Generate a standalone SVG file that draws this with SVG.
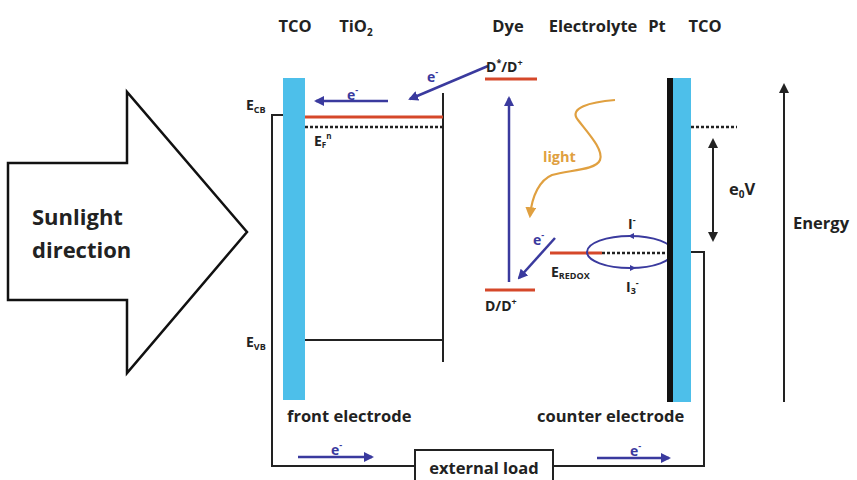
<svg xmlns="http://www.w3.org/2000/svg" width="857" height="480" viewBox="0 0 857 480">
<style>
text{font-family:"Open Sans","Liberation Sans",Arial,sans-serif;font-weight:bold;fill:#222}
.hdr{font-size:16.5px}
.sm{font-size:14px}
.lbl{font-size:16.5px}
.blk{stroke:#222;stroke-width:2;fill:none}
.blu{stroke:#3a3a9e;stroke-width:2.5;fill:none}
.red{stroke:#d5482a;stroke-width:3;fill:none}
.dash{stroke:#222;stroke-width:2.5;stroke-dasharray:3,2;fill:none}
.bar{fill:#4dbfea}
.el{fill:#3a3a9e}
.bt{fill:#3a3a9e}
</style>
<defs>
<marker id="ab" viewBox="0 0 10 10" refX="8" refY="5" markerWidth="4" markerHeight="4" orient="auto"><path d="M0,0L10,5L0,10z" fill="#3a3a9e"/></marker>
<marker id="ak" viewBox="0 0 10 10" refX="8" refY="5" markerWidth="5" markerHeight="5" orient="auto-start-reverse"><path d="M0,0L10,5L0,10z" fill="#222"/></marker>
<marker id="ao" viewBox="0 0 10 10" refX="8" refY="5" markerWidth="5" markerHeight="5" orient="auto"><path d="M0,0L10,5L0,10z" fill="#e0a040"/></marker>
</defs>
<rect width="857" height="480" fill="#fff"/>

<g id="sunlight-arrow">
<path d="M8,163H127V92L247,232L127,373V300H8Z" fill="#fff" stroke="#111" stroke-width="2.5" stroke-linejoin="miter"/>
<text x="32" y="225" style="font-size:22px">Sunlight</text>
<text x="32" y="258" style="font-size:22px">direction</text>
</g>

<g id="headers">
<text class="hdr" x="295" y="32" text-anchor="middle">TCO</text>
<text class="hdr" x="356" y="32" text-anchor="middle">TiO<tspan font-size="10" dy="4">2</tspan></text>
<text class="hdr" x="508" y="32" text-anchor="middle">Dye</text>
<text class="hdr" x="593" y="32" text-anchor="middle">Electrolyte</text>
<text class="hdr" x="657" y="32" text-anchor="middle">Pt</text>
<text class="hdr" x="705" y="32" text-anchor="middle">TCO</text>
</g>

<g id="connectors">
<path class="blk" d="M283,115H272V466H415"/>
<path class="blk" d="M553,466H704V252H691"/>
<path class="blk" d="M443,93V362"/>
<path class="blk" d="M305,340H443"/>
<line class="blu" x1="388" y1="101" x2="316" y2="101" marker-end="url(#ab)"/>
<line class="blu" x1="488" y1="66" x2="410" y2="99" marker-end="url(#ab)"/>
<line class="blu" x1="509" y1="282" x2="509" y2="98" marker-end="url(#ab)"/>
<line class="blu" x1="555" y1="238" x2="519" y2="278" marker-end="url(#ab)"/>
<line class="blu" x1="298" y1="457" x2="372" y2="457" marker-end="url(#ab)"/>
<line class="blu" x1="597" y1="458" x2="669" y2="458" marker-end="url(#ab)"/>
<path d="M615,100C590,102 568,108 578,120C588,133 604,150 600,160C596,170 570,170 552,175C540,180 532,195 530,216" stroke="#e0a040" stroke-width="2.2" fill="none" marker-end="url(#ao)"/>
<line class="blk" x1="713" y1="140" x2="713" y2="240" stroke-width="1.8" marker-start="url(#ak)" marker-end="url(#ak)"/>
<line class="blk" x1="784" y1="402" x2="784" y2="85" stroke-width="1.8" marker-end="url(#ak)"/>
</g>

<g id="front-electrode">
<rect class="bar" x="283" y="78" width="22" height="322"/>
<text class="sm" x="246" y="110">E<tspan font-size="9" dy="3">CB</tspan></text>
<text class="sm" x="246" y="347">E<tspan font-size="9" dy="3">VB</tspan></text>
<text class="lbl" x="287" y="422">front electrode</text>
</g>

<g id="tio2">
<line class="red" x1="305" y1="117" x2="443" y2="117"/>
<line class="dash" x1="305" y1="127" x2="443" y2="127"/>
<text class="sm" x="314" y="146">E<tspan font-size="8" dy="2">F</tspan><tspan font-size="8" dy="-9">n</tspan></text>
<text class="sm bt" x="347" y="100">e<tspan font-size="9" dy="-7">-</tspan></text>
<text class="sm bt" x="427" y="82">e<tspan font-size="9" dy="-7">-</tspan></text>
</g>

<g id="dye">
<line class="red" x1="485" y1="79" x2="537" y2="79"/>
<text class="sm" x="486" y="72">D<tspan font-size="9" dy="-6">*</tspan><tspan dy="6">/D</tspan><tspan font-size="9" dy="-6">+</tspan></text>
<line class="red" x1="485" y1="290" x2="535" y2="290"/>
<text class="sm" x="485" y="311">D/D<tspan font-size="9" dy="-6">+</tspan></text>
<text x="543" y="162" style="font-size:14.5px;fill:#e0a040">light</text>
<text class="sm bt" x="533" y="245">e<tspan font-size="9" dy="-7">-</tspan></text>
</g>

<g id="electrolyte">
<line class="red" x1="550" y1="253" x2="602" y2="253"/>
<line class="dash" x1="602" y1="253" x2="669" y2="253"/>
<ellipse cx="630" cy="252" rx="43" ry="16" fill="none" stroke="#3a3a9e" stroke-width="2"/>
<path class="el" d="M628,236l6,-3v6z"/>
<path class="el" d="M636,268l-6,-3v6z"/>
<path class="el" d="M679,252l-5,-3v6z"/>
<text class="sm" x="551" y="277">E<tspan font-size="9" dy="2">REDOX</tspan></text>
<text class="sm" x="628" y="229">I<tspan font-size="9" dy="-6">-</tspan></text>
<text class="sm" x="626" y="292">I<tspan font-size="9" dy="2">3</tspan><tspan font-size="9" dy="-8">-</tspan></text>
</g>

<g id="counter-electrode">
<rect x="667" y="78" width="6" height="324" fill="#111"/>
<rect class="bar" x="673" y="78" width="18" height="324"/>
<line class="dash" x1="691" y1="127" x2="737" y2="127"/>
<text class="lbl" x="537" y="422">counter electrode</text>
<text class="lbl" x="729" y="195">e<tspan font-size="10" dy="3">0</tspan><tspan dy="-3">V</tspan></text>
<text class="lbl" x="793" y="229">Energy</text>
</g>

<g id="external-load">
<rect x="415" y="450" width="138" height="40" fill="#fff" stroke="#222" stroke-width="2"/>
<text class="lbl" x="484" y="474" text-anchor="middle">external load</text>
<text class="sm bt" x="331" y="455">e<tspan font-size="9" dy="-7">-</tspan></text>
<text class="sm bt" x="630" y="456">e<tspan font-size="9" dy="-7">-</tspan></text>
</g>
</svg>
